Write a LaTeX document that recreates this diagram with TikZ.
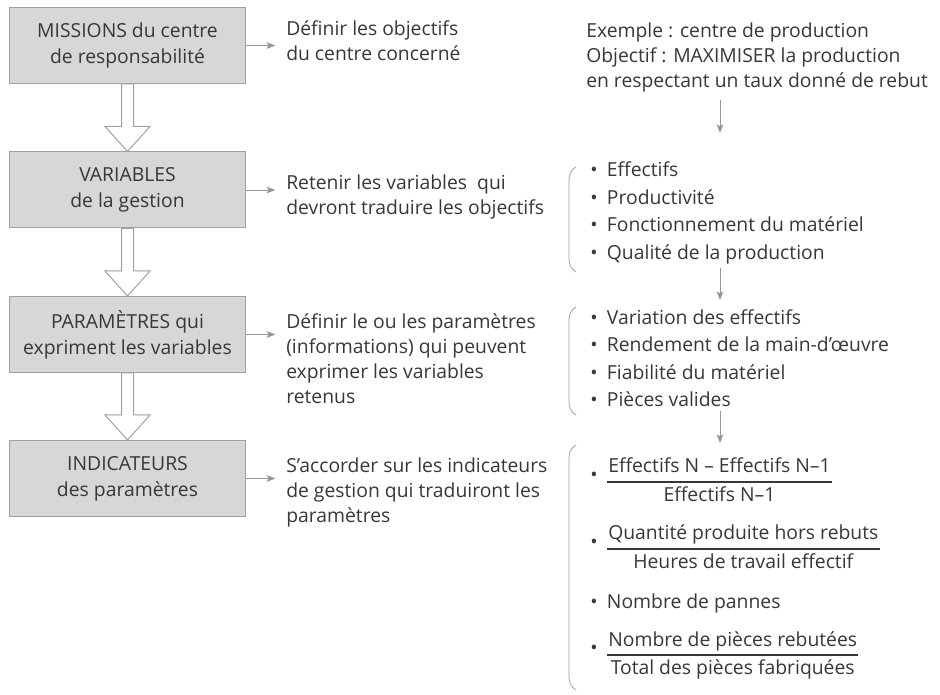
\documentclass[tikz,border=0pt]{standalone}
\usepackage{fontspec}
\setmainfont{Open Sans}
\usepackage{tikz}
\usetikzlibrary{arrows.meta,calc,backgrounds}
\definecolor{ink}{RGB}{55,55,55}
\definecolor{panel}{RGB}{215,215,215}
\definecolor{edge}{RGB}{160,160,160}
\definecolor{pointer}{RGB}{150,150,150}
\setlength\arrayrulewidth{1.1pt}
\newcommand\itm[1]{\makebox[12.5pt][l]{\textbullet}#1}
\newcommand\frc[2]{\begin{tabular}[t]{@{\hspace{1pt}}c@{\hspace{1pt}}}#1\\\hline #2\end{tabular}}
\newcommand\fitm[2]{\makebox[12.5pt][l]{\raisebox{-6.5pt}{\textbullet}}\frc{#1}{#2}}
\newcommand\blockarrow[2]{%
  \draw[hollow] ($(#1.south)+(-6,0)$) -- ($(#1.south)+(6,0)$) -- ($(#2.north)+(6,-25)$)
    -- ($(#2.north)+(22.5,-25)$) -- (#2.north) -- ($(#2.north)+(-22.5,-25)$)
    -- ($(#2.north)+(-6,-25)$) -- cycle;}
\tikzset{
  stage/.style={draw=edge, fill=panel, line width=0.75pt, minimum width=177.5pt, minimum height=57pt,
              align=center, text=ink, inner sep=0pt, font=\fontsize{14.5}{19.5}\selectfont},
  note/.style={anchor=north west, align=left, text=ink, inner sep=0pt,
              font=\fontsize{14.5}{18.75}\selectfont},
  items/.style={anchor=west, align=left, text=ink, inner sep=0pt,
              font=\fontsize{14.5}{20.6}\selectfont},
  flow/.style={-{Stealth[length=6.5pt,width=5pt,inset=1.5pt]}, draw=pointer, line width=0.6pt},
  hollow/.style={draw=edge, fill=white, line width=0.75pt},
  bracket/.style={draw=edge, line width=0.6pt},
}

\begin{document}
\begin{tikzpicture}[x=0.75pt,y=-0.75pt]
    \useasboundingbox (0,0) rectangle (940,695);
    % left column
    \node[stage] (mis) at (127.5,45.5)  {MISSIONS du centre\\de responsabilité};
    \node[stage] (var) at (127.5,190)   {VARIABLES\\de la gestion};
    \node[stage] (par) at (127.5,334.5) {PARAMÈTRES qui\\expriment les variables};
    \node[stage] (ind) at (127.5,478.5) {INDICATEURS\\des paramètres};
    \begin{scope}[on background layer]
      \blockarrow{mis}{var}
      \blockarrow{var}{par}
      \blockarrow{par}{ind}
    \end{scope}
    % middle column
    \node[note] (dmis) at (286,20)  {Définir les objectifs\\du centre concerné};
    \node[note] (dvar) at (286,174.5) {Retenir les variables~ qui\\devront traduire les objectifs};
    \node[note] (dpar) at (286,313) {Définir le ou les paramètres\\(informations) qui peuvent\\exprimer les variables\\retenus};
    \node[note] (dind) at (286,458) {S’accorder sur les indicateurs\\de gestion qui traduiront les\\paramètres};
    \draw[flow, shorten >=8pt] (mis.east) -- (mis.east -| dmis.west);
    \draw[flow, shorten >=8pt] (var.east) -- (var.east -| dvar.west);
    \draw[flow, shorten >=8pt] (par.east) -- (par.east -| dpar.west);
    \draw[flow, shorten >=8pt] (ind.east) -- (ind.east -| dind.west);
    % right column
    \node[note, anchor=west] (ex) at (586,57.5) {Exemple : centre de production\\Objectif : MAXIMISER la production\\en respectant un taux donné de rebut};
    \node[items] (lvar) at (590,213) {\itm{Effectifs}\\\itm{Productivité}\\\itm{Fonctionnement du matériel}\\\itm{Qualité de la production}};
    \node[items] (lpar) at (590,358) {\itm{Variation des effectifs}\\\itm{Rendement de la main-d’œuvre}\\\itm{Fiabilité du matériel}\\\itm{Pièces valides}};
    \node[items, anchor=base west] (i1) at (590,473) {\fitm{Effectifs N – Effectifs N–1}{Effectifs N–1}};
    \node[items, anchor=base west] (i2) at (590,540) {\fitm{Quantité produite hors rebuts}{Heures de travail effectif}};
    \node[items] (i3) at (590,603) {\itm{Nombre de pannes}};
    \node[items, anchor=base west] (i4) at (590,646) {\fitm{Nombre de pièces rebutées}{Total des pièces fabriquées}};
    \draw[bracket] (576,167) .. controls (570,171) and (569,175) .. (569,181) -- (569,258) .. controls (569,264) and (570,268) .. (576,272);
    \draw[bracket] (576,307) .. controls (570,311) and (569,315) .. (569,321) -- (569,401) .. controls (569,407) and (570,411) .. (576,415);
    \draw[bracket] (576,445) .. controls (570,449) and (569,453) .. (569,459) -- (569,676) .. controls (569,682) and (570,686) .. (576,690);
    \coordinate (t1) at (720,133);
    \coordinate (t2) at (720,300);
    \coordinate (t3) at (720,443);
    \draw[flow, shorten <=6pt] (t1 |- ex.south) -- (t1);
    \draw[flow, shorten <=3pt] (t2 |- lvar.south) -- (t2);
    \draw[flow, shorten <=3pt] (t3 |- lpar.south) -- (t3);
  \end{tikzpicture}
\end{document}
